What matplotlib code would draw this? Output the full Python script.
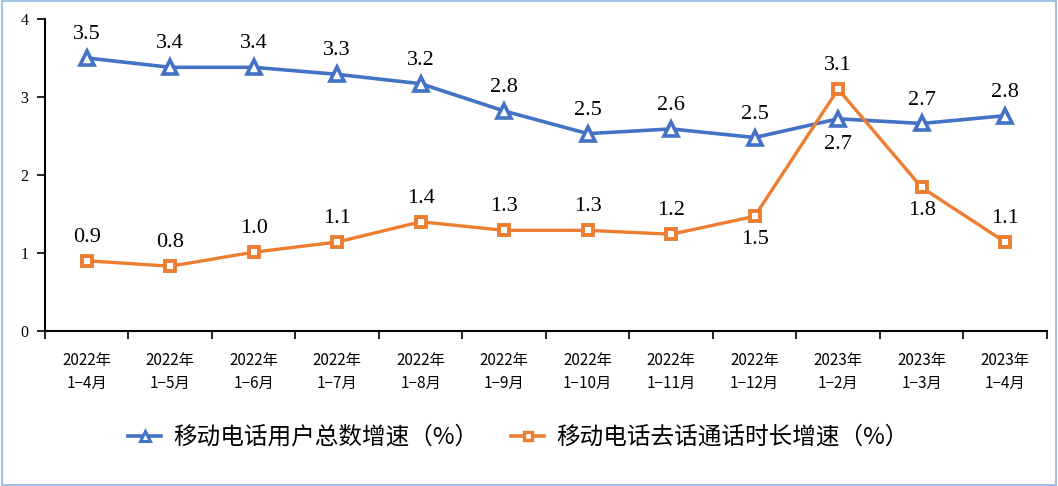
import matplotlib
matplotlib.use("Agg")
import matplotlib.pyplot as plt
from matplotlib.patches import Rectangle
from matplotlib.lines import Line2D

categories = ["2022年\n1−4月", "2022年\n1−5月", "2022年\n1−6月", "2022年\n1−7月", "2022年\n1−8月",
              "2022年\n1−9月", "2022年\n1−10月", "2022年\n1−11月", "2022年\n1−12月",
              "2023年\n1−2月", "2023年\n1−3月", "2023年\n1−4月"]
users = [3.5, 3.38, 3.38, 3.29, 3.17, 2.82, 2.53, 2.59, 2.48, 2.72, 2.66, 2.76]
users_labels = ["3.5", "3.4", "3.4", "3.3", "3.2", "2.8", "2.5", "2.6", "2.5", "2.7", "2.7", "2.8"]
calls = [0.90, 0.83, 1.01, 1.14, 1.40, 1.29, 1.29, 1.24, 1.47, 3.10, 1.84, 1.14]
calls_labels = ["0.9", "0.8", "1.0", "1.1", "1.4", "1.3", "1.3", "1.2", "1.5", "3.1", "1.8", "1.1"]
users_below = [9]
calls_below = [8, 10]
series_names = ["移动电话用户总数增速（%）", "移动电话去话通话时长增速（%）"]
yticks = [0, 1, 2, 3, 4]

blue = "#4472C4"
orange = "#ED7D31"
cjk = ["Noto Sans CJK SC", "DejaVu Sans"]
serif = ["Liberation Serif", "DejaVu Serif"]

fig = plt.figure(figsize=(10.58, 4.86), dpi=100)
ax = fig.add_axes([0.0425, 0.319, 0.947, 0.642])
x = list(range(len(categories)))

ax.plot(x, users, color=blue, lw=2.6, marker="^", markersize=10, markerfacecolor="white",
        markeredgecolor=blue, markeredgewidth=2.6, zorder=3)
ax.plot(x, calls, color=orange, lw=2.4, marker="s", markersize=7, markerfacecolor="white",
        markeredgecolor=orange, markeredgewidth=2.8, zorder=4)

for i, (v, t) in enumerate(zip(users, users_labels)):
    below = i in users_below
    ax.annotate(t, (i, v), xytext=(0, -12 if below else 10), textcoords="offset points",
                ha="center", va="top" if below else "bottom", fontsize=16, family=serif)
for i, (v, t) in enumerate(zip(calls, calls_labels)):
    below = i in calls_below
    ax.annotate(t, (i, v), xytext=(0, -10 if below else 10), textcoords="offset points",
                ha="center", va="top" if below else "bottom", fontsize=16, family=serif)

ax.set_xlim(-0.5, len(categories) - 0.5)
ax.set_ylim(0, 4)
ax.set_yticks(yticks)
ax.set_yticklabels([str(v) for v in yticks], fontsize=11.5, family=serif)
ax.set_xticks([i - 0.5 for i in range(len(categories) + 1)])
ax.set_xticklabels([])
ax.set_xticks(x, minor=True)
ax.set_xticklabels(categories, minor=True, fontsize=11, family=cjk, linespacing=1.45)
ax.tick_params(axis="x", which="minor", length=0, pad=15)
ax.tick_params(axis="x", which="major", length=6, width=1.2, direction="out")
ax.tick_params(axis="y", length=6, width=1.2, direction="out", pad=6)
for s in ["top", "right"]:
    ax.spines[s].set_visible(False)
for s in ["left", "bottom"]:
    ax.spines[s].set_linewidth(1.5)

handles = [
    Line2D([], [], color=blue, lw=2.6, marker="^", markersize=7, markerfacecolor="white",
           markeredgecolor=blue, markeredgewidth=2.2),
    Line2D([], [], color=orange, lw=2.6, marker="s", markersize=6, markerfacecolor="white",
           markeredgecolor=orange, markeredgewidth=2.4),
]
fig.legend(handles, series_names, loc="center", bbox_to_anchor=(0.49, 0.1), ncol=2, frameon=False,
           prop={"family": cjk, "size": 17}, handlelength=1.4, columnspacing=1.4,
           handletextpad=0.5)

fig.patches.append(Rectangle((0.002, 0.003), 0.996, 0.994, transform=fig.transFigure,
                             fill=False, edgecolor="#9DC3E6", lw=1.5))

fig.savefig("out.png", dpi=100)
